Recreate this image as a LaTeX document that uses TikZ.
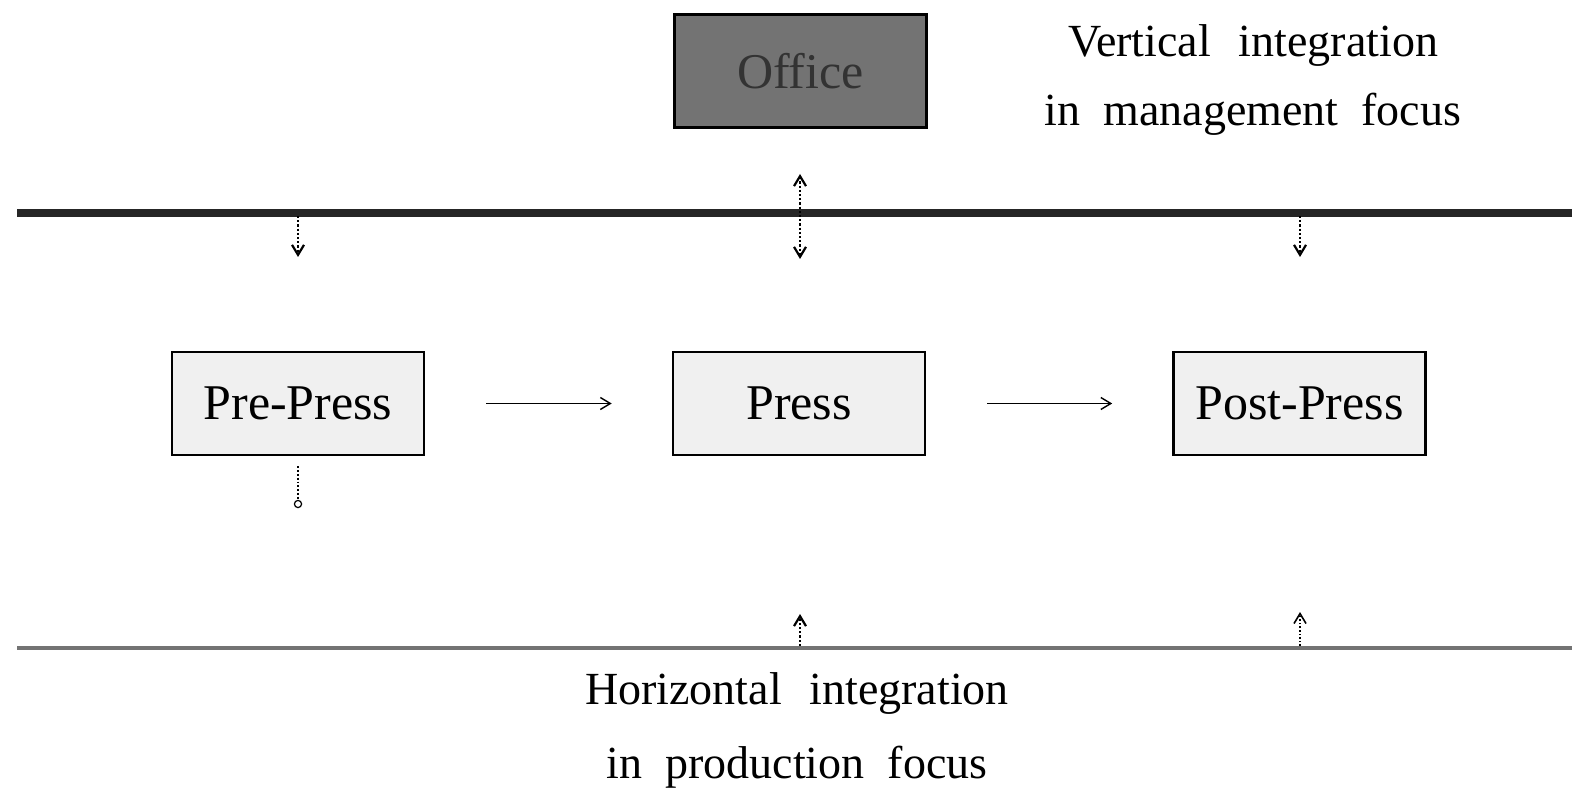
\documentclass[tikz,border=0pt]{standalone}
\usepackage{fontspec}
\setmainfont{Liberation Serif}
\usetikzlibrary{arrows.meta}
\begin{document}
\begin{tikzpicture}[x=0.5pt,y=-0.5pt,
  stagebox/.style={draw=black,line width=1.3pt,fill=gray!12,minimum width=126pt,minimum height=51.5pt,inner sep=0pt,font=\fontsize{25}{28}\selectfont},
  officebox/.style={draw=black,line width=1.5pt,fill=black!55,minimum width=126pt,minimum height=56.5pt,inner sep=0pt,text=black!80,font=\fontsize{25}{28}\selectfont},
  caption/.style={font=\fontsize{23}{26}\selectfont,inner sep=0pt,anchor=base},
  dotarrow/.style={densely dotted,line width=1.1pt,-{Straight Barb[length=5pt,width=6pt]}},
  flowarrow/.style={line width=0.7pt,-{Straight Barb[length=5pt,width=6pt]}},
  bigline/.style={line width=4pt,black!85},
  smallline/.style={line width=2pt,black!55}
]
\useasboundingbox (0,0) rectangle (1572,812);
% nodes
\node[officebox] (office) at (800.5,71.5) {Office};
\node[stagebox] (pre) at (298,403.5) {Pre-Press};
\node[stagebox] (press) at (799,403.5) {Press};
\node[stagebox] (post) at (1299.5,403.5) {Post-Press};
% captions
\node[caption] (vt1) at (1253,57) {Vertical\hspace{0.6em}integration};
\node[caption] (vt2) at (1253,126) {in\hspace{0.5em}management\hspace{0.5em}focus};
\node[caption] (ht1) at (797,704) {Horizontal\hspace{0.6em}integration};
\node[caption] (ht2) at (797,778) {in\hspace{0.5em}production\hspace{0.5em}focus};
% lines
\coordinate (tl) at (17,213);
\coordinate (tr) at (1572,213);
\coordinate (bl) at (17,648);
\coordinate (br) at (1572,648);
\draw[bigline] (tl) -- (tr);
\draw[smallline] (bl) -- (br);
% arrows from top line
\coordinate (t1) at (298,216);
\coordinate (t1e) at (298,257);
\coordinate (t3) at (1300,216);
\coordinate (t3e) at (1300,257);
\coordinate (t2a) at (800,174);
\coordinate (t2b) at (800,259);
\draw[dotarrow] (t1) -- (t1e);
\draw[dotarrow] (t3) -- (t3e);
\draw[densely dotted,line width=1.1pt,{Straight Barb[length=5pt,width=6pt]}-{Straight Barb[length=5pt,width=6pt]}] (t2a) -- (t2b);
% flow arrows
\draw[flowarrow,shorten <=30.5pt,shorten >=30pt] (pre.east) -- (press.west);
\draw[flowarrow,shorten <=30.5pt,shorten >=30pt] (press.east) -- (post.west);
% dotted tail below pre-press
\coordinate (pd) at (298,504);
\draw[densely dotted,line width=0.9pt,shorten <=5pt] (pre.south) -- (pd);
\draw[line width=0.6pt,fill=white] (pd) circle (1.8pt);
% up arrows from bottom line
\coordinate (b2) at (800,646);
\coordinate (b2e) at (800,614);
\coordinate (b3) at (1300,646);
\coordinate (b3e) at (1300,612);
\draw[dotarrow] (b2) -- (b2e);
\draw[dotarrow,line width=0.8pt] (b3) -- (b3e);
\end{tikzpicture}
\end{document}
